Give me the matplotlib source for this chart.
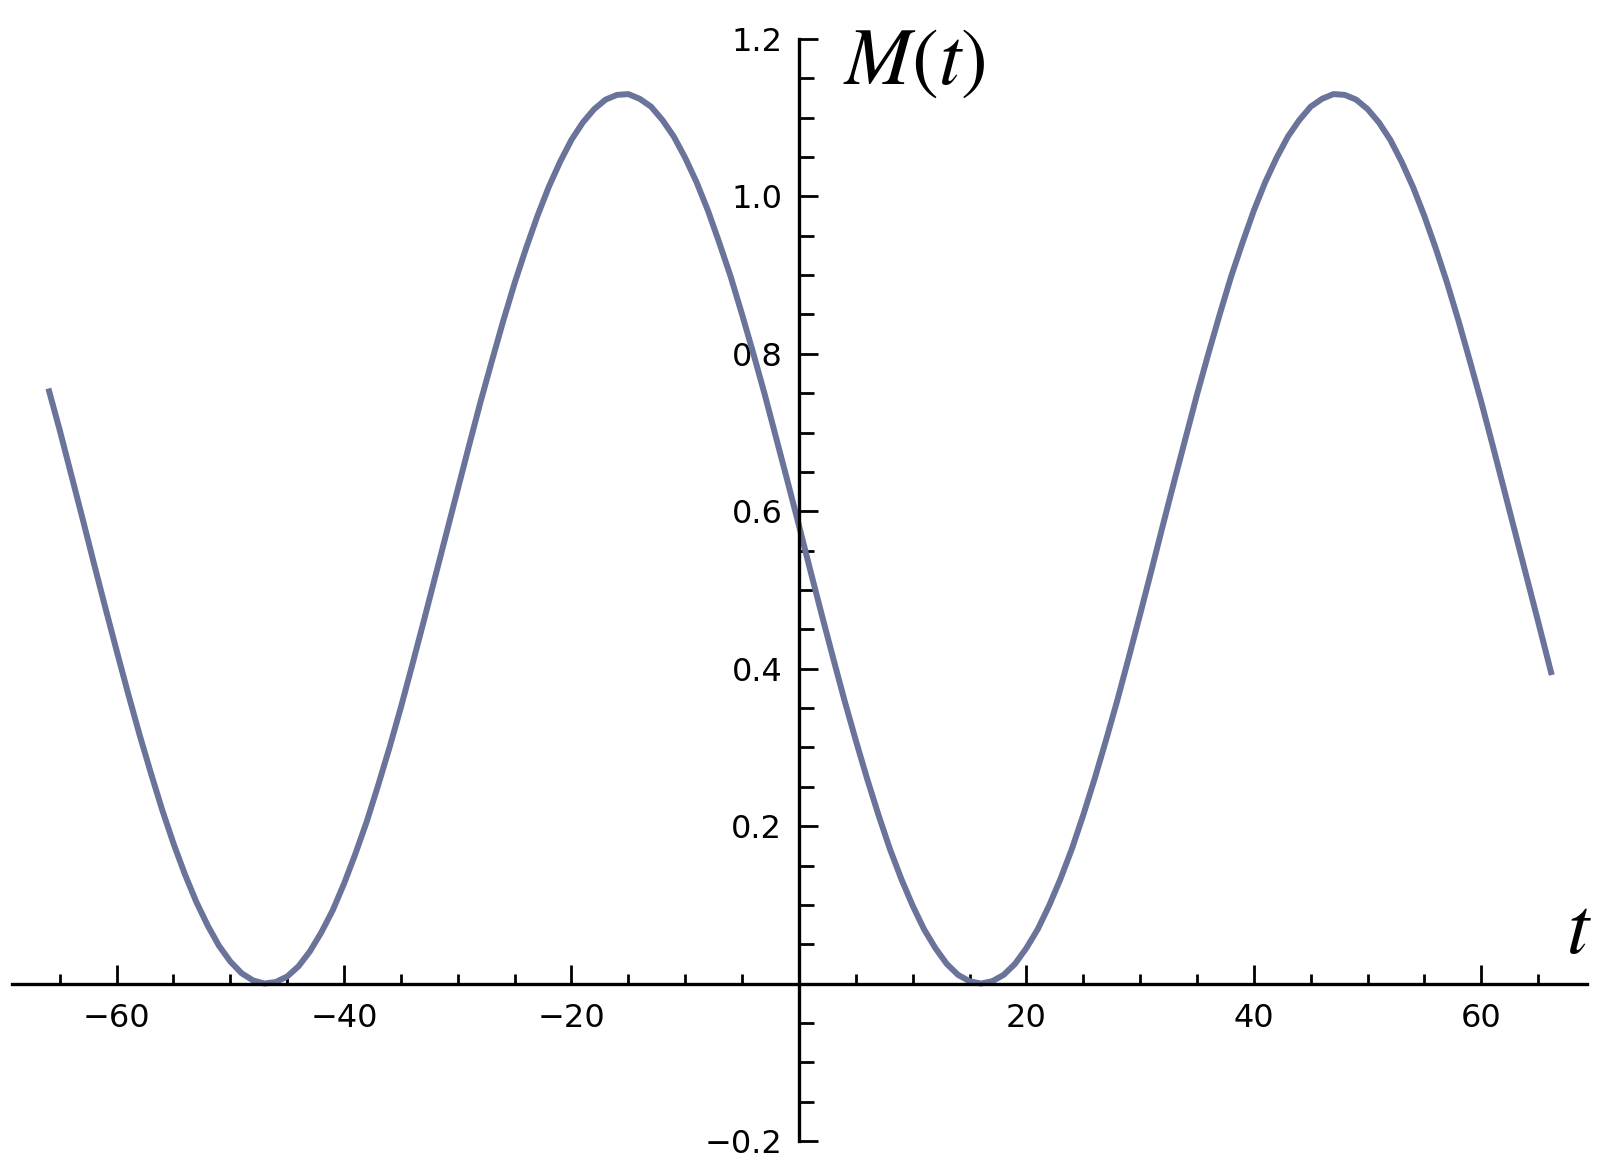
import matplotlib.pyplot as plt
from matplotlib.ticker import FixedLocator, MultipleLocator

# values, one per unit of t (last point is the line's end)
t = list(range(-66, 66)) + [66.2]
M = [0.756, 0.703, 0.647, 0.591, 0.534, 0.478, 0.423, 0.369, 0.317, 0.268,
     0.221, 0.178, 0.139, 0.104, 0.074, 0.048, 0.028, 0.013, 0.004, 0.000,
     0.002, 0.009, 0.022, 0.041, 0.065, 0.093, 0.127, 0.165, 0.206, 0.252,
     0.300, 0.351, 0.405, 0.460, 0.516, 0.572, 0.628, 0.684, 0.739, 0.791,
     0.842, 0.890, 0.934, 0.975, 1.012, 1.044, 1.072, 1.094, 1.111, 1.123,
     1.129, 1.130, 1.124, 1.114, 1.097, 1.076, 1.049, 1.018, 0.982, 0.941,
     0.898, 0.850, 0.800, 0.748, 0.693, 0.638, 0.582, 0.525, 0.469, 0.414,
     0.360, 0.309, 0.260, 0.214, 0.171, 0.133, 0.099, 0.069, 0.045, 0.025,
     0.011, 0.003, 0.000, 0.003, 0.011, 0.025, 0.045, 0.069, 0.099, 0.133,
     0.171, 0.214, 0.260, 0.309, 0.360, 0.414, 0.469, 0.525, 0.582, 0.638,
     0.693, 0.748, 0.800, 0.850, 0.898, 0.941, 0.982, 1.018, 1.049, 1.076,
     1.097, 1.114, 1.124, 1.130, 1.129, 1.123, 1.111, 1.094, 1.072, 1.044,
     1.012, 0.975, 0.934, 0.890, 0.842, 0.791, 0.739, 0.684, 0.628, 0.572,
     0.516, 0.460, 0.392]

xticks = [-60, -40, -20, 20, 40, 60]
yticks = [-0.2, 0.2, 0.4, 0.6, 0.8, 1.0, 1.2]

W, H = 1615, 1173
fig = plt.figure(figsize=(W / 100, H / 100), dpi=100)
ax = fig.add_axes([12 / W, (H - 1141) / H, (1587 - 12) / W, (1141 - 39) / H])

ax.plot(t, M, color="#6a7399", lw=4.3, solid_capstyle="butt", solid_joinstyle="round")

ax.set_xlim(-69.2, 69.3)
ax.set_ylim(-0.2, 1.2)

ax.spines["left"].set_position(("data", 0))
ax.spines["bottom"].set_position(("data", 0))
ax.spines["top"].set_visible(False)
ax.spines["right"].set_visible(False)
for s in ["left", "bottom"]:
    ax.spines[s].set_linewidth(2.4)

ax.xaxis.set_major_locator(FixedLocator(xticks))
ax.xaxis.set_minor_locator(MultipleLocator(5))
ax.yaxis.set_major_locator(FixedLocator(yticks))
ax.yaxis.set_minor_locator(MultipleLocator(0.05))
ax.set_xticklabels([f"\u2212{abs(v)}" if v < 0 else str(v) for v in xticks])
ax.set_yticklabels([f"\u2212{abs(v):.1f}" if v < 0 else f"{v:.1f}" for v in yticks])

ax.tick_params(axis="x", which="major", direction="in", length=14, width=2, labelsize=23, pad=14)
ax.tick_params(axis="x", which="minor", direction="in", length=7, width=2)
ax.tick_params(axis="y", which="major", direction="in", length=14, width=2, labelsize=23, pad=12)
ax.tick_params(axis="y", which="minor", direction="in", length=11, width=2)

plt.rcParams["mathtext.fontset"] = "stix"
fig.text(843 / W, (H - 84) / H, r"$M(t)$", fontsize=58, ha="left", va="baseline")
fig.text(1566 / W, (H - 953) / H, r"$t$", fontsize=58, ha="left", va="baseline")

fig.savefig("out.png", dpi=100)
